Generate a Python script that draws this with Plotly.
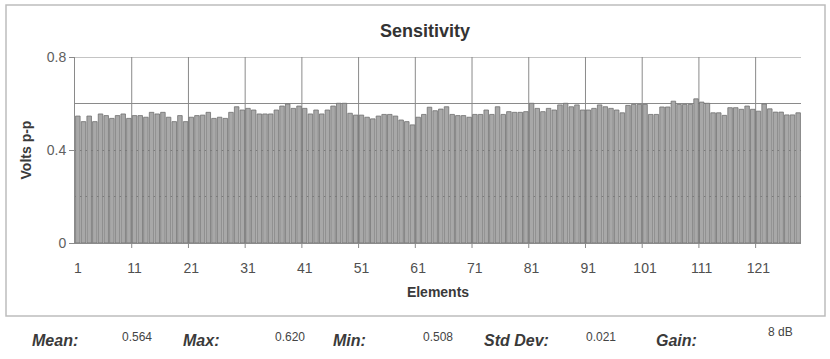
import plotly.graph_objects as go

elements = list(range(1, 129))
volts = [
    0.546, 0.522, 0.546, 0.522, 0.555, 0.548, 0.536, 0.548, 0.555, 0.536,
    0.548, 0.548, 0.541, 0.562, 0.555, 0.562, 0.541, 0.522, 0.548, 0.522,
    0.541, 0.548, 0.550, 0.562, 0.536, 0.541, 0.536, 0.562, 0.586, 0.572,
    0.579, 0.572, 0.555, 0.555, 0.555, 0.572, 0.589, 0.598, 0.579, 0.589,
    0.579, 0.555, 0.572, 0.555, 0.572, 0.589, 0.601, 0.601, 0.558, 0.550,
    0.550, 0.541, 0.534, 0.546, 0.553, 0.553, 0.546, 0.529, 0.522, 0.508,
    0.541, 0.553, 0.584, 0.569, 0.576, 0.586, 0.553, 0.548, 0.548, 0.541,
    0.553, 0.553, 0.572, 0.553, 0.586, 0.553, 0.565, 0.562, 0.562, 0.565,
    0.601, 0.579, 0.565, 0.579, 0.572, 0.594, 0.601, 0.586, 0.594, 0.572,
    0.572, 0.579, 0.594, 0.586, 0.579, 0.572, 0.560, 0.592, 0.596, 0.596,
    0.596, 0.553, 0.553, 0.585, 0.585, 0.610, 0.596, 0.596, 0.596, 0.620,
    0.606, 0.601, 0.560, 0.560, 0.549, 0.582, 0.582, 0.575, 0.589, 0.575,
    0.567, 0.598, 0.577, 0.563, 0.563, 0.551, 0.551, 0.560,
]
x_ticks = [1, 11, 21, 31, 41, 51, 61, 71, 81, 91, 101, 111, 121]
y_ticks = [0, 0.4, 0.8]
y_tick_text = ["0", "0.4", "0.8"]
y_max = 0.8
stat_labels = ["Mean:", "Max:", "Min:", "Std Dev:", "Gain:"]
stat_values = ["0.564", "0.620", "0.508", "0.021", "8 dB"]

W, H = 830, 359
L, R, T, B = 75, 29, 57, 116
PW, PH = W - L - R, H - T - B

def px(x):
    return (x - L) / PW

def py(y):
    return (H - B - y) / PH

FONT = "Liberation Sans, Arial, sans-serif"
GRID = "#8a8a8a"

fig = go.Figure()
fig.add_trace(go.Bar(
    x=elements, y=volts,
    marker=dict(color="#a8a8a8", line=dict(color="#707070", width=0.8)),
    hoverinfo="x+y",
))

shapes = []
# vertical grid lines between categories (with small tick marks below axis)
for t in x_ticks[1:]:
    shapes.append(dict(type="line", xref="x", yref="y", x0=t - 0.5, x1=t - 0.5,
                       y0=0, y1=y_max, line=dict(color=GRID, width=1), layer="below"))
    shapes.append(dict(type="line", xref="x", yref="paper", x0=t - 0.5, x1=t - 0.5,
                       y0=0, y1=-5 / PH, line=dict(color=GRID, width=1)))
# top grid line at the axis maximum
shapes.append(dict(type="line", xref="paper", yref="y", x0=0, x1=1, y0=y_max, y1=y_max,
                   line=dict(color=GRID, width=1), layer="below"))
# outer frame
shapes.append(dict(type="rect", xref="paper", yref="paper",
                   x0=px(6), x1=px(825), y0=py(5), y1=py(316),
                   line=dict(color="#bdbdbd", width=1.5), layer="below"))

annotations = []
label_x = [55, 201, 349, 516, 676]
value_x = [137, 290, 438, 601, 780]
value_y = [337, 337, 337, 337, 332]
for lab, lx in zip(stat_labels, label_x):
    annotations.append(dict(text="<b><i>%s</i></b>" % lab, x=px(lx), y=py(340),
                            xref="paper", yref="paper", showarrow=False,
                            xanchor="center", yanchor="middle",
                            font=dict(family=FONT, size=16, color="#3a3a3a")))
for val, vx, vy in zip(stat_values, value_x, value_y):
    annotations.append(dict(text=val, x=px(vx), y=py(vy),
                            xref="paper", yref="paper", showarrow=False,
                            xanchor="center", yanchor="middle",
                            font=dict(family=FONT, size=12, color="#444444")))

fig.update_layout(
    width=W, height=H,
    margin=dict(l=L, r=R, t=T, b=B),
    paper_bgcolor="white", plot_bgcolor="white",
    showlegend=False,
    bargap=0.2,
    title=dict(text="<b>Sensitivity</b>", x=425 / W, xanchor="center",
               y=1 - 31 / H, yanchor="middle",
               font=dict(family=FONT, size=18, color="#333333")),
    font=dict(family=FONT, size=14, color="#555555"),
    xaxis=dict(range=[0.5, 128.5], tickvals=x_ticks, ticks="", showgrid=False,
               showline=True, linecolor=GRID, linewidth=1, zeroline=False,
               ticklabelstandoff=12,
               tickfont=dict(size=14, color="#505050"),
               title=dict(text="<b>Elements</b>", standoff=12,
                          font=dict(size=14, color="#3a3a3a"))),
    yaxis=dict(range=[0, y_max], tickvals=y_ticks, ticktext=y_tick_text,
               ticks="outside", ticklen=5, tickcolor=GRID,
               showline=True, linecolor=GRID, linewidth=1,
               showgrid=True, gridcolor=GRID, gridwidth=1, zeroline=False,
               minor=dict(dtick=0.2, showgrid=True, gridcolor=GRID, gridwidth=1),
               tickfont=dict(size=14, color="#606060"),
               title=dict(text="<b>Volts p-p</b>", standoff=11,
                          font=dict(size=14, color="#3a3a3a"))),
    shapes=shapes,
    annotations=annotations,
)

fig.write_html("out.html")
